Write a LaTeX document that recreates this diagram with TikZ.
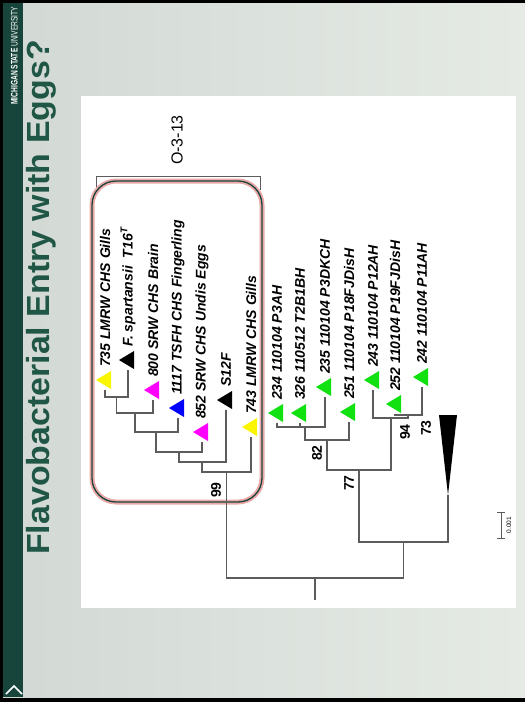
\documentclass[tikz,border=0pt]{standalone}
\usepackage{fontspec}
\setmainfont{Liberation Sans}
\definecolor{msugreen}{HTML}{18453B}
\definecolor{titlegreen}{HTML}{1F5646}
\definecolor{branch}{HTML}{5C5C5C}
\definecolor{tgreen}{HTML}{11E011}
\definecolor{tyellow}{HTML}{FAF500}
\definecolor{tmag}{HTML}{FF00FF}
\definecolor{tblue}{HTML}{0000FF}
\definecolor{bgl}{HTML}{D2D9D5}
\definecolor{bgr}{HTML}{E5EAE4}
\definecolor{glow}{HTML}{EBA8A8}
\tikzset{
  br/.style={draw=branch, line width=1.1pt},
  lbl/.style={rotate=90, anchor=west, inner sep=0pt, font=\fontsize{14}{16}\selectfont\bfseries\itshape},
  boot/.style={rotate=90, inner sep=0pt, font=\fontsize{14}{16}\selectfont\bfseries},
}
\newcommand\leafmark[5]{%
  \fill[#4] ({#2-9},{#3}) -- ({#2+6},{#3-9}) -- ({#2+6},{#3+9}) -- cycle;
  \coordinate (#1) at ({#2},{#3+10});
  \node[lbl] (#1txt) at ({#2},{#3-13}) {#5};
}
\begin{document}
\begin{tikzpicture}[x=1pt,y=-1pt]
\useasboundingbox (0,0) rectangle (525,702);
% frame and slide background
\fill[black] (0,0) rectangle (525,702);
\shade[left color=bgl, right color=bgr] (3,3) rectangle (525,697);
\fill[msugreen] (3,3) rectangle (23,697);
\node[rotate=90, anchor=base west, inner sep=0pt, text=white, font=\fontsize{9.5}{10}\selectfont] (msu) at (17.5,105) {\scalebox{0.7}[1]{\textbf{MICHIGAN STATE} UNIVERSITY}};
\draw[white, line width=1.6pt] (6,694) -- (14,686) -- (22,694);
% title
\node[rotate=90, anchor=base west, inner sep=0pt, text=titlegreen, font=\fontsize{32}{36}\selectfont\bfseries] (title) at (49,555) {\scalebox{1.06}[1]{Flavobacterial Entry with Eggs?}};
% white panel
\fill[white] (81,96) rectangle (516,608);
% clade bracket
\draw[branch, line width=0.9pt] (96,190) -- (96,176) -- (260,176) -- (260,190);
\node[rotate=90, inner sep=0pt, font=\fontsize{16}{18}\selectfont] (clade) at (177,140) {O-3-13};
% highlight box
\draw[glow, line width=5pt, rounded corners=24pt] (92,181) rectangle (262,502);
\draw[msugreen, line width=1.3pt, rounded corners=24pt] (92,181) rectangle (262,502);
% leaves in box
\leafmark{l1}{105}{380}{tyellow}{735 LMRW CHS Gills}
\leafmark{l2}{128}{360}{black}{F. spartansii\ \ T16\textsuperscript{T}}
\leafmark{l3}{153}{390}{tmag}{800 SRW CHS Brain}
\leafmark{l4}{178}{408}{tblue}{1117 TSFH CHS Fingerling}
\leafmark{l5}{202}{432}{tmag}{852 SRW CHS Undis Eggs}
\leafmark{l6}{226}{400}{black}{S12F}
\leafmark{l7}{251}{427}{tyellow}{743 LMRW CHS Gills}
% green leaves
\leafmark{g1}{277}{413}{tgreen}{234 110104 P3AH}
\leafmark{g2}{300}{413}{tgreen}{326 110512 T2B1BH}
\leafmark{g3}{325}{387}{tgreen}{235 110104 P3DKCH}
\leafmark{g4}{349}{412}{tgreen}{251 110104 P18FJDisH}
\leafmark{g5}{373}{380}{tgreen}{243 110104 P12AH}
\leafmark{g6}{395}{404}{tgreen}{252 110104 P19FJDisH}
\leafmark{g7}{422}{377}{tgreen}{242 110104 P11AH}
% internal nodes
\coordinate (nA) at (116.5,397);
\coordinate (nB) at (135,413);
\coordinate (nC) at (156,432);
\coordinate (nD) at (179,452);
\coordinate (nE) at (202,462);
\coordinate (nF) at (226.5,472);
\coordinate (nP) at (305,427);
\coordinate (nQ) at (327,440);
\coordinate (nR) at (391,470);
\coordinate (n94) at (391,418);
\coordinate (n73) at (408,415);
\coordinate (nS) at (403.5,542);
\coordinate (nG) at (315,578);
\coordinate (root) at (315,600);
\coordinate (wedge) at (448,495);
% box clade branches
\draw[br] (l1) |- (nA) -| (l2);
\draw[br] (nA) |- (nB) -| (l3);
\draw[br] (nB) |- (nC) -| (l4);
\draw[br] (nC) |- (nD) -| (l5);
\draw[br] (nD) |- (nE) -| (l6);
\draw[br] (nE) |- (nF) -| (l7);
\draw[br] (nF) |- (nG) -| (nS);
\draw[br] (nG) -- (root);
% green clade branches
\draw[br] (g1) |- (g3 |- nP) -- (g3);
\draw[br] (g2) -- (g2 |- nP);
\draw[br] (nP) |- (nQ) -| (g4);
\draw[br] (nQ) |- (nR) -- (n94);
\draw[br] (g5) |- (n94) -| (n73);
\draw[br] (g6) |- (n73) -| (g7);
\draw[br] (nR -| 359,0) |- (nS) -| (wedge);
% collapsed clade
\fill[black] (439,415) -- (457,415) -- (wedge) -- cycle;
% bootstrap values
\node[boot] (b99) at (216,490) {99};
\node[boot] (b82) at (317,453) {82};
\node[boot] (b77) at (349,483) {77};
\node[boot] (b94) at (405,432) {94};
\node[boot] (b73) at (426,428) {73};
% scale bar
\coordinate (sbt) at (501,512);
\coordinate (sbb) at (501,538);
\draw[branch, line width=0.9pt] ([xshift=-4pt]sbt) -- ([xshift=4pt]sbt) (sbt) -- (sbb) ([xshift=-4pt]sbb) -- ([xshift=4pt]sbb);
\node[rotate=90, inner sep=0pt, font=\fontsize{6.5}{7}\selectfont] (sbl) at (509,525) {0.001};
\end{tikzpicture}
\end{document}
